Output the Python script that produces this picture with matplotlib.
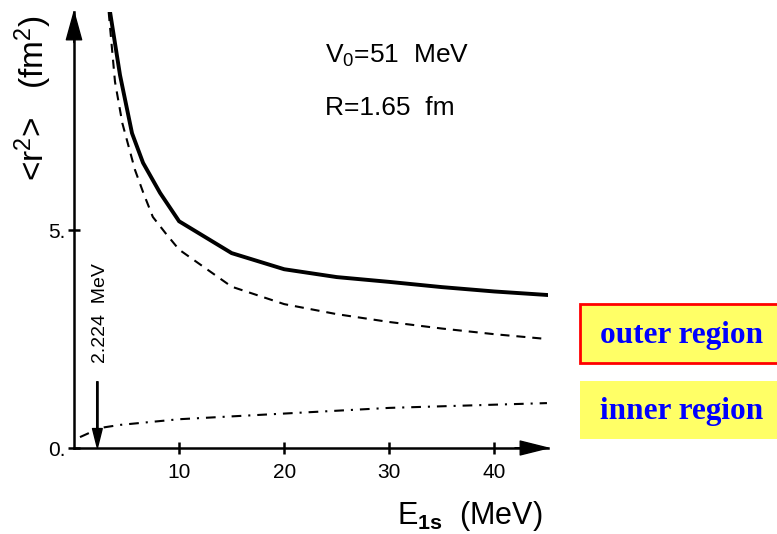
import matplotlib
matplotlib.use('Agg')
import matplotlib.pyplot as plt
from matplotlib.patches import Rectangle

# curve data
E_total = [3.43, 4.38, 5.52, 6.57, 8.19, 10.0, 15.0, 20.0, 25.0, 30.0, 35.0, 40.0, 45.0]
r2_total = [10.0, 8.55, 7.22, 6.54, 5.85, 5.2, 4.47, 4.1, 3.92, 3.81, 3.69, 3.59, 3.51]

E_outer = [3.3, 3.9, 4.6, 5.8, 6.6, 7.5, 8.7, 10.0, 15.0, 20.0, 25.0, 30.0, 35.0, 40.0, 45.0]
r2_outer = [10.0, 8.4, 7.45, 6.38, 5.85, 5.3, 4.93, 4.55, 3.7, 3.3, 3.07, 2.89, 2.74, 2.61, 2.5]

E_inner = [0.57, 2.5, 4.4, 10.0, 20.0, 30.0, 45.0]
r2_inner = [0.25, 0.46, 0.53, 0.66, 0.79, 0.92, 1.03]

x_ticks = [10, 20, 30, 40]
y_ticks = [0, 5]
y_ticklabels = ['0.', '5.']
E_deuteron = 2.224

plt.rcParams['font.family'] = ['Liberation Sans', 'DejaVu Sans']
plt.rcParams['mathtext.fontset'] = 'custom'
plt.rcParams['mathtext.rm'] = 'Liberation Sans'
plt.rcParams['mathtext.it'] = 'Liberation Sans:italic'
plt.rcParams['mathtext.bf'] = 'Liberation Sans:bold'
plt.rcParams['lines.scale_dashes'] = False

fig = plt.figure(figsize=(7.77, 5.34), dpi=100)
ax = fig.add_axes([74 / 777, 86 / 534, 474 / 777, 436 / 534])
ax.set_xlim(0, 45.1)
ax.set_ylim(0, 10.0)

ax.plot(E_total, r2_total, color='black', lw=2.8, solid_joinstyle='miter')
ax.plot(E_outer, r2_outer, color='black', lw=1.5, linestyle=(0, (6.5, 5)))
ax.plot(E_inner, r2_inner, color='black', lw=1.5, linestyle=(0, (7, 5, 1.5, 5)))

for side in ['top', 'right']:
    ax.spines[side].set_visible(False)
for side in ['left', 'bottom']:
    ax.spines[side].set_linewidth(1.8)

ax.set_xticks(x_ticks)
ax.set_yticks(y_ticks)
ax.set_yticklabels(y_ticklabels)
ax.tick_params(axis='both', direction='inout', length=8, width=1.8, labelsize=15)
ax.tick_params(axis='x', pad=7)
ax.tick_params(axis='y', pad=2)

# arrow heads on the axes
ax.annotate('', xy=(0, 1), xytext=(0, 0.93), xycoords='axes fraction',
            arrowprops=dict(facecolor='black', edgecolor='black', width=0.1,
                            headwidth=11, headlength=20, shrink=0), annotation_clip=False)
ax.annotate('', xy=(1, 0), xytext=(0.93, 0), xycoords='axes fraction',
            arrowprops=dict(facecolor='black', edgecolor='black', width=0.1,
                            headwidth=10, headlength=20, shrink=0), annotation_clip=False)

# deuteron binding energy marker
ax.annotate('', xy=(E_deuteron, 0), xytext=(E_deuteron, 1.52),
            arrowprops=dict(facecolor='black', edgecolor='black', width=1.0,
                            headwidth=7, headlength=14, shrink=0))
ax.text(E_deuteron + 0.3, 3.1, '2.224  MeV', rotation=90, ha='center', va='center', fontsize=14)

ax.text(23.9, 9.0, r'V$_0$=51  MeV', ha='left', va='center', fontsize=19)
ax.text(23.9, 7.8, 'R=1.65  fm', ha='left', va='center', fontsize=19)

fig.text(33 / 777, 1 - 98 / 534, r'<r$^2$>   (fm$^2$)', rotation=90,
         ha='center', va='center', fontsize=24)
fig.text(470 / 777, 1 - 524 / 534, r'E$_{\mathbf{1s}}$  (MeV)', ha='center', va='baseline',
         fontsize=22)

# region labels
fig.patches.append(Rectangle((580 / 777, 1 - 363 / 534), 0.3, 59 / 534, transform=fig.transFigure,
                             facecolor='#FFFF66', edgecolor='red', lw=2, zorder=0))
fig.patches.append(Rectangle((580 / 777, 1 - 439 / 534), 0.3, 58 / 534, transform=fig.transFigure,
                             facecolor='#FFFF66', edgecolor='none', zorder=0))
fig.text(682 / 777, 1 - 336 / 534, 'outer region', ha='center', va='center', fontsize=22.5,
         fontweight='bold', color='#0000FF', family='Liberation Serif')
fig.text(682 / 777, 1 - 411 / 534, 'inner region', ha='center', va='center', fontsize=22.5,
         fontweight='bold', color='#0000FF', family='Liberation Serif')

fig.savefig('out.png', dpi=100)
